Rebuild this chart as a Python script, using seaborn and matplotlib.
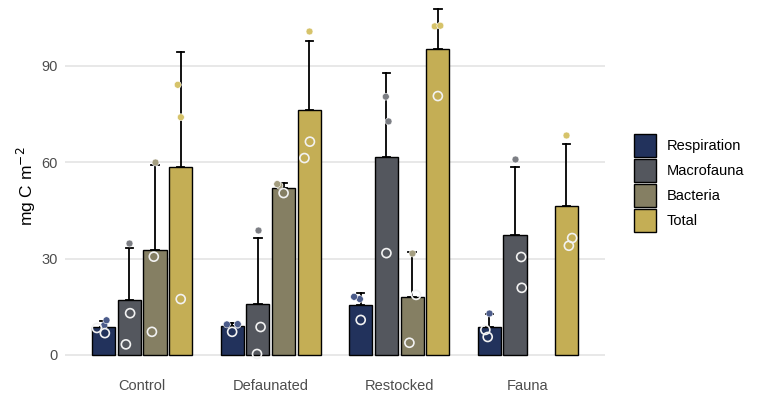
import matplotlib
matplotlib.use("Agg")
import matplotlib.pyplot as plt
import matplotlib.patches as mpatches
import numpy as np
import pandas as pd
import seaborn as sns

treatments = ["Control", "Defaunated", "Restocked", "Fauna"]
components = ["Respiration", "Macrofauna", "Bacteria", "Total"]

# replicate measurements (mg C m-2); "filled" / "open" are the two point styles
treatment = (["Control"] * 13 + ["Defaunated"] * 13 + ["Restocked"] * 12 + ["Fauna"] * 9)
component = (["Respiration"] * 4 + ["Macrofauna"] * 3 + ["Bacteria"] * 3 + ["Total"] * 3
             + ["Respiration"] * 4 + ["Macrofauna"] * 3 + ["Bacteria"] * 3 + ["Total"] * 3
             + ["Respiration"] * 3 + ["Macrofauna"] * 3 + ["Bacteria"] * 3 + ["Total"] * 3
             + ["Respiration"] * 3 + ["Macrofauna"] * 3 + ["Total"] * 3)
value = [6.8, 8.4, 9.3, 10.8, 13.0, 3.3, 35.0, 30.6, 7.2, 60.2, 84.1, 74.0, 17.4,
         7.2, 9.4, 9.6, 9.5, 8.7, 0.3, 38.9, 50.4, 52.7, 53.2, 101.0, 61.3, 66.4,
         17.4, 18.1, 10.9, 80.4, 72.7, 31.7, 31.7, 18.7, 3.8, 102.3, 102.5, 80.6,
         13.1, 7.8, 5.6, 61.0, 30.5, 20.9, 68.5, 34.0, 36.4]
kind = ["open", "open", "filled", "filled", "open", "open", "filled", "open", "open", "filled",
        "filled", "filled", "open",
        "open", "filled", "filled", "filled", "open", "open", "filled", "open", "filled", "filled",
        "filled", "open", "open",
        "filled", "filled", "open", "filled", "filled", "open", "filled", "open", "open",
        "filled", "filled", "open",
        "filled", "open", "open", "filled", "open", "open", "filled", "open", "open"]

bar_colors = ["#22325c", "#54575e", "#857f63", "#c4ae55"]
point_colors = ["#4b5b8a", "#7c7e84", "#a49e80", "#d6c36a"]

df = pd.DataFrame({"treatment": treatment, "component": component, "value": value, "kind": kind})

plt.rcParams["font.family"] = ["Liberation Sans", "DejaVu Sans"]
np.random.seed(3)

fig = plt.figure(figsize=(7.57, 4.0), dpi=100)
ax = fig.add_axes([65 / 757, 27.7 / 400, 540 / 757, 372.3 / 400])

sns.barplot(data=df, x="treatment", y="value", hue="component", order=treatments,
            hue_order=components, palette=bar_colors, saturation=1, errorbar="sd",
            capsize=0.23, err_kws={"color": "black", "linewidth": 1.3}, edgecolor="black",
            linewidth=1.0, width=0.8, gap=0.1, legend=False, ax=ax)
# only mean + sd is shown: drop the lower cap, start the whisker at the mean
for line in ax.lines:
    y = np.asarray(line.get_ydata(), dtype=float)
    lo, hi = np.nanmin(y), np.nanmax(y)
    nan_idx = np.where(np.isnan(y))[0]
    first_nan = nan_idx[0] if len(nan_idx) else 0
    is_lo = y == lo
    y[is_lo & (np.arange(len(y)) < first_nan)] = np.nan
    y[is_lo] = (lo + hi) / 2
    line.set_ydata(y)
    line.set_zorder(0.8)

n_before = len(ax.collections)
sns.stripplot(data=df[df["kind"] == "filled"], x="treatment", y="value", hue="component",
              order=treatments, hue_order=components, palette=point_colors, dodge=True,
              jitter=0.22, size=5, edgecolor="white", linewidth=0.4, legend=False, ax=ax)
n_mid = len(ax.collections)
sns.stripplot(data=df[df["kind"] == "open"], x="treatment", y="value", hue="component",
              order=treatments, hue_order=components, palette=point_colors, dodge=True,
              jitter=0.22, size=6.5, linewidth=1.2, legend=False, ax=ax)
for i, coll in enumerate(ax.collections[n_before:]):
    coll.set_zorder(3)
    if n_before + i >= n_mid:
        coll.set_facecolor("none")
        coll.set_edgecolor("#f2f2f2")

ax.set_xlim(-0.6, 3.6)
ax.set_ylim(-5.4, 110.5)
ax.set_yticks([0, 30, 60, 90])
ax.set_xlabel("")
ax.set_ylabel("mg C m$^{-2}$", fontsize=12.5, color="black", labelpad=3)
for s in ax.spines.values():
    s.set_visible(False)
ax.set_axisbelow(True)
ax.grid(axis="y", color="#e6e6e6", linewidth=1.3)
ax.grid(axis="x", visible=False)
ax.tick_params(axis="both", length=0, labelsize=10.5, labelcolor="#4d4d4d")
ax.tick_params(axis="x", pad=5)
ax.tick_params(axis="y", pad=5)

handles = [mpatches.Patch(facecolor=c, edgecolor="black", linewidth=1.0, label=l)
           for c, l in zip(bar_colors, components)]
fig.legend(handles=handles, loc="center left", bbox_to_anchor=(634 / 757, 1 - 183 / 400),
           frameon=False, fontsize=10.5, handlelength=1.5, handleheight=2.05,
           labelspacing=0.14, handletextpad=0.75, borderpad=0, borderaxespad=0)

fig.savefig("out.png", dpi=100)
